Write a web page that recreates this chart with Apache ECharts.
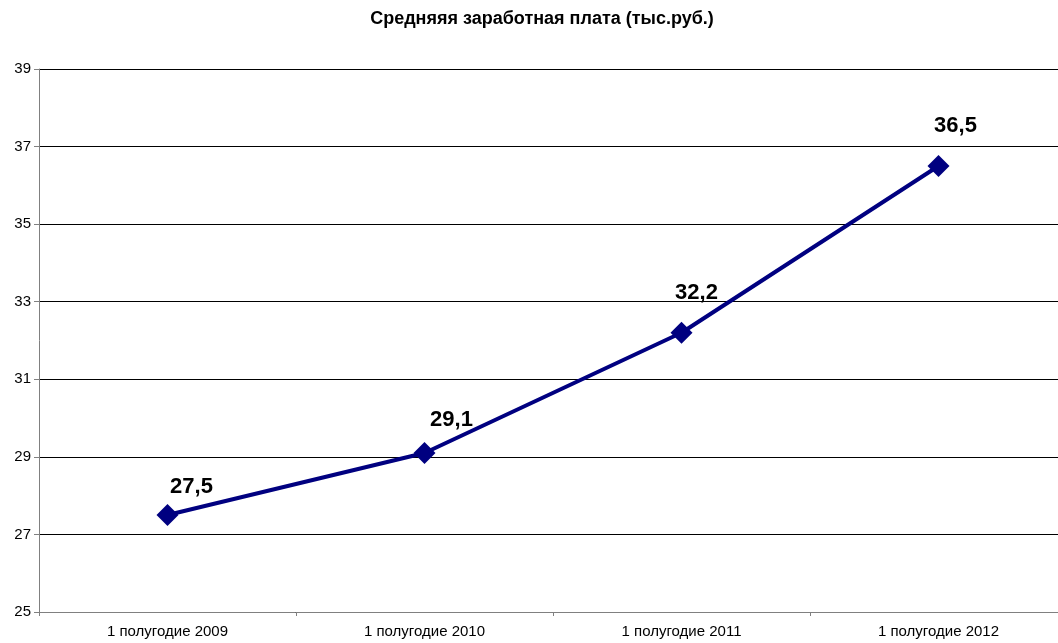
<!DOCTYPE html>
<html><head><meta charset="utf-8">
<script src="https://cdn.jsdelivr.net/npm/echarts@6/dist/echarts.min.js"></script>
<style>html,body{margin:0;padding:0;background:#fff;overflow:hidden;width:1058px;height:643px}#c{width:1068px;height:643px}</style>
</head><body><div id="c"></div>
<script>
const categories = ['1 полугодие 2009','1 полугодие 2010','1 полугодие 2011','1 полугодие 2012'];
const values = [27.5, 29.1, 32.2, 36.5];
const yTicks = {min:25, max:39, step:2};
const chartTitle = 'Средняяя заработная плата (тыс.руб.)';
const labelOffsets = [[24,-28],[27,-33],[15,-40],[17,-40]];
const chart = echarts.init(document.getElementById('c'));
chart.setOption({
  animation:false,
  backgroundColor:'#fff',
  title:{text:chartTitle,left:537,top:5,textAlign:'center',textStyle:{fontFamily:'Liberation Sans, Arial',fontSize:18,fontWeight:'bold',color:'#000'}},
  grid:{left:39,right:1,top:69,bottom:31},
  xAxis:{type:'category',data:categories,boundaryGap:true,
    axisLine:{lineStyle:{color:'#808080',width:1}},
    axisTick:{show:true,length:4,lineStyle:{color:'#808080'}},
    axisLabel:{color:'#000',fontFamily:'Liberation Sans, Arial',fontSize:15,margin:12}},
  yAxis:{type:'value',min:yTicks.min,max:yTicks.max,interval:yTicks.step,
    axisLine:{show:true,lineStyle:{color:'#808080'}},
    axisTick:{show:true,length:5,lineStyle:{color:'#808080'}},
    splitLine:{lineStyle:{color:'#000',width:1}},
    axisLabel:{color:'#000',fontFamily:'Liberation Sans, Arial',fontSize:15,margin:8}},
  series:[{type:'line',symbol:'diamond',symbolSize:22,
    data:values.map((v,i)=>({value:v,label:{offset:labelOffsets[i]}})),
    lineStyle:{color:'#000080',width:4},itemStyle:{color:'#000080'},
    label:{show:true,position:'inside',fontFamily:'Liberation Sans, Arial',fontSize:22,fontWeight:'bold',color:'#000',
      formatter:p=>String(p.value).replace('.',',')}}]
});
</script></body></html>
